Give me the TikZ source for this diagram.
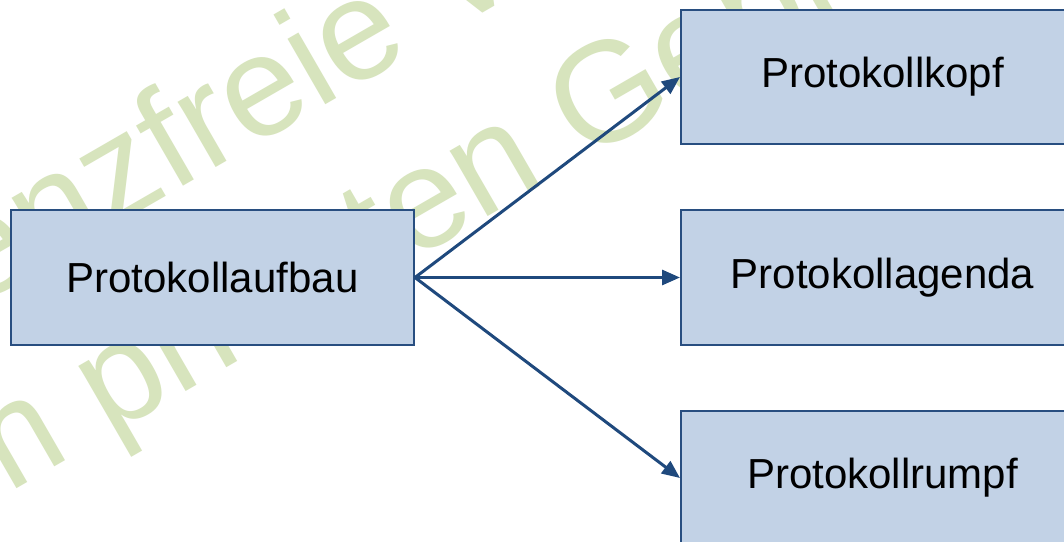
\documentclass[tikz,border=0pt]{standalone}
\usepackage{fontspec}
\setmainfont{Liberation Sans}
\usetikzlibrary{arrows.meta}
\definecolor{boxfill}{RGB}{194,210,230}
\definecolor{boxline}{RGB}{40,78,128}
\definecolor{arrowcol}{RGB}{31,73,125}
\definecolor{wmark}{RGB}{215,228,189}
\tikzset{
  box/.style={draw=boxline, line width=2pt, fill=boxfill, minimum width=403pt, minimum height=134pt, inner sep=0pt, font=\fontsize{42}{50}\selectfont},
  conn/.style={draw=arrowcol, line width=3pt, -{Triangle[length=18pt,width=15pt]}},
  wm/.style={text=wmark, rotate=30, anchor=base west, inner sep=0pt, font=\fontsize{143}{170}\selectfont}
}
\begin{document}
\begin{tikzpicture}[x=1pt,y=1pt]
\useasboundingbox (0,0) rectangle (1064,541);
\clip (0,0) rectangle (1064,541);
\fill[white] (0,0) rectangle (1064,541);
% watermark
\node[wm] (wm1) at (-185.4,141.5) {Lizenzfreie Vorlage};
\node[wm] (wm2) at (-160.2,-50.5) {zum privaten Gebrauch};
% boxes
\node[box] (aufbau) at (212.5,263.5) {Protokollaufbau};
\node[box] (kopf) at (882.5,464) {Protokollkopf};
\node[box] (agenda) at (882.5,263.5) {Protokollagenda};
\node[box] (rumpf) at (882.5,63) {Protokollrumpf};
% connectors
\draw[conn] (aufbau.east) -- (kopf.west);
\draw[conn] (aufbau.east) -- (agenda.west);
\draw[conn] (aufbau.east) -- (rumpf.west);
\end{tikzpicture}
\end{document}
